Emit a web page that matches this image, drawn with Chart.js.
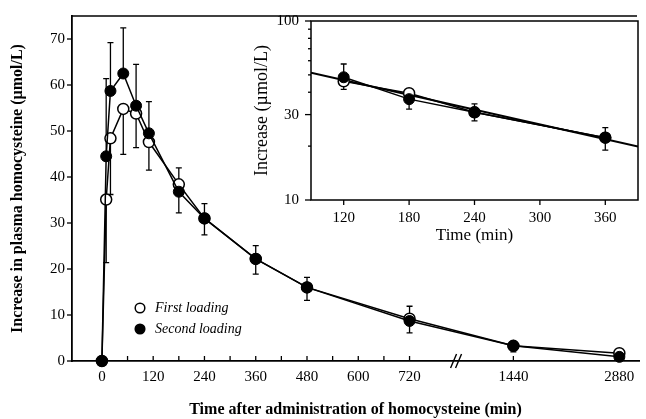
<!DOCTYPE html>
<html>
<head>
<meta charset="utf-8">
<script src="https://cdn.jsdelivr.net/npm/chart.js@4.4.1/dist/chart.umd.min.js"></script>
<style>
  html, body { margin: 0; padding: 0; background: #fff; }
  #wrap { position: relative; width: 646px; height: 419px; }
  #main { position: absolute; left: 0; top: 0; }
  #inset { position: absolute; left: 240px; top: 0; }
</style>
</head>
<body>
<div id="wrap">
  <canvas id="main" width="646" height="419"></canvas>
  <canvas id="inset" width="406" height="250"></canvas>
</div>
<script>
// ---- main plot data (min, umol/L) ----
var times          = [0, 10, 20, 50, 80, 110, 180, 240, 360, 480, 720, 1440, 2880]
var firstLoading   = [0, 35.1, 48.4, 54.8, 53.8, 47.6, 38.4, 31.0, 22.2, 16.0, 9.2, 3.3, 1.7]
var secondLoading  = [0, 44.5, 58.7, 62.5, 55.5, 49.5, 36.8, 31.0, 22.2, 16.0, 8.7, 3.3, 0.9]
var firstLower     = [0, 21.4, 36.2, 44.9, 46.4, 41.5, 32.2, 27.4, 18.9, 13.2, 6.1, 2.0, 0.9]
var secondUpper    = [0, 61.4, 69.2, 72.4, 64.5, 56.4, 42.0, 34.2, 25.1, 18.2, 11.9, 4.2, 1.6]

var xTickValues    = [0, 60, 120, 180, 240, 300, 360, 420, 480, 540, 600, 660, 720, 1440, 2880]
var xTickLabels    = [0, 120, 240, 360, 480, 600, 720, 1440, 2880]
var yTickValues    = [0, 10, 20, 30, 40, 50, 60, 70]
var legendLabels   = ['First loading', 'Second loading']

// ---- inset data (log scale) ----
var insetTimes       = [120, 180, 240, 360]
var insetFirst       = [46.0, 39.5, 30.9, 22.3]
var insetSecond      = [48.5, 36.6, 30.9, 22.3]
var insetFirstLower  = [41.5, 32.2, 27.7, 19.0]
var insetSecondUpper = [57.5, 40.8, 34.4, 25.4]
var fitTimes         = [90, 390]
var fitValues        = [51.4, 19.9]
var insetXTicks      = [120, 180, 240, 300, 360]
var insetYTicks      = [10, 20, 30, 40, 50, 60, 70, 80, 90, 100]
var insetYLabels     = [10, 30, 100]

var SERIF = '"Liberation Serif", "Times New Roman", serif'

// broken time axis: linear up to 720, then compressed
function axisPos(t) {
    if (t <= 720) return t
    if (t <= 1440) return 720 + (t - 720) * (963 - 720) / 720
    return 963 + (t - 1440) * (1211 - 963) / 1440
}
var breakAt = 830

function points(xs, ys, fx) {
    return xs.map(function (x, i) { return { x: fx ? fx(x) : x, y: ys[i] } })
}

// error bars, drawn under the markers
var errorBars = {
    id: 'errorBars',
    beforeDatasetsDraw: function (chart) {
        var ctx = chart.ctx
        ctx.save()
        ctx.strokeStyle = '#000'
        ctx.lineWidth = 1.3
        chart.data.datasets.forEach(function (ds) {
            if (!ds.errorTo) return
            ds.data.forEach(function (p, i) {
                var x  = chart.scales.x.getPixelForValue(p.x)
                var y1 = chart.scales.y.getPixelForValue(p.y)
                var y2 = chart.scales.y.getPixelForValue(ds.errorTo[i])
                ctx.beginPath()
                ctx.moveTo(x, y1); ctx.lineTo(x, y2)
                ctx.moveTo(x - 3, y2); ctx.lineTo(x + 3, y2)
                ctx.stroke()
            })
        })
        ctx.restore()
    }
}

// tick marks (dir 1 = outward, -1 = inward)
var tickMarks = {
    id: 'tickMarks',
    afterDraw: function (chart, args, opts) {
        var ctx = chart.ctx
        ctx.save()
        ctx.strokeStyle = '#000'
        ctx.lineWidth = 1.3
        ;['x', 'y'].forEach(function (id) {
            var sc = chart.scales[id], o = opts[id]
            if (!o) return
            sc.ticks.forEach(function (t) {
                var p = sc.getPixelForValue(t.value)
                var len = t.label ? o.major : o.minor
                ctx.beginPath()
                if (id === 'x') { ctx.moveTo(p, sc.top); ctx.lineTo(p, sc.top + o.dir * len) }
                else { ctx.moveTo(sc.right, p); ctx.lineTo(sc.right - o.dir * len, p) }
                ctx.stroke()
            })
        })
        ctx.restore()
    }
}

// frame, axis break and legend for the main plot
var mainDecor = {
    id: 'mainDecor',
    afterDraw: function (chart) {
        var ctx = chart.ctx, a = chart.chartArea
        ctx.save()
        ctx.strokeStyle = '#000'
        ctx.lineWidth = 1.5
        ctx.beginPath()
        ctx.moveTo(a.left, a.top); ctx.lineTo(a.right - 2, a.top)
        ctx.stroke()

        // "//" break on the time axis
        var bx = chart.scales.x.getPixelForValue(breakAt)
        ctx.lineWidth = 1.4
        ctx.beginPath()
        ctx.moveTo(bx - 6, a.bottom + 7); ctx.lineTo(bx, a.bottom - 7)
        ctx.moveTo(bx - 1, a.bottom + 7); ctx.lineTo(bx + 5, a.bottom - 7)
        ctx.stroke()

        // legend
        var lx = 140, ly = 308
        ctx.font = 'italic 14px ' + SERIF
        ctx.textBaseline = 'middle'
        legendLabels.forEach(function (label, i) {
            var y = ly + i * 21
            ctx.beginPath()
            ctx.arc(lx, y, 4.8, 0, Math.PI * 2)
            ctx.fillStyle = i === 0 ? '#fff' : '#000'
            ctx.fill()
            ctx.lineWidth = 1.5
            ctx.stroke()
            ctx.fillStyle = '#000'
            ctx.fillText(label, lx + 15, y)
        })
        ctx.restore()
    }
}

var insetFrame = {
    id: 'insetFrame',
    afterDraw: function (chart) {
        var ctx = chart.ctx, a = chart.chartArea
        ctx.save()
        ctx.strokeStyle = '#000'
        ctx.lineWidth = 1.5
        ctx.strokeRect(a.left, a.top, a.right - a.left, a.bottom - a.top)
        ctx.restore()
    }
}

function openSeries(data, errorTo) {
    return {
        data: data, errorTo: errorTo, order: 1, clip: false,
        borderColor: '#000', borderWidth: 1.5,
        pointRadius: 5.5, pointBackgroundColor: '#fff',
        pointBorderColor: '#000', pointBorderWidth: 1.5
    }
}
function filledSeries(data, errorTo) {
    return {
        data: data, errorTo: errorTo, order: 0, clip: false,
        borderColor: '#000', borderWidth: 1.5,
        pointRadius: 5.5, pointBackgroundColor: '#000',
        pointBorderColor: '#000', pointBorderWidth: 1
    }
}

// ---- main chart ----
new Chart(document.getElementById('main'), {
    type: 'line',
    data: {
        datasets: [
            openSeries(points(times, firstLoading, axisPos), firstLower),
            filledSeries(points(times, secondLoading, axisPos), secondUpper)
        ]
    },
    options: {
        responsive: false,
        animation: false,
        layout: { padding: { top: 13, right: 1, left: 0, bottom: 0 } },
        plugins: {
            legend: { display: false },
            tooltip: { enabled: false },
            tickMarks: { x: { dir: -1, major: 5, minor: 5 }, y: { dir: 1, major: 5, minor: 5 } }
        },
        scales: {
            x: {
                type: 'linear',
                min: -70,
                max: 1257,
                afterBuildTicks: function (sc) {
                    sc.ticks = xTickValues.map(function (v) { return { value: axisPos(v) } })
                },
                afterFit: function (sc) { sc.height = 58 },
                grid: { display: false, drawTicks: false },
                border: { color: '#000', width: 1.8 },
                ticks: {
                    autoSkip: false, maxRotation: 0, padding: 7, color: '#000',
                    font: { family: SERIF, size: 15 },
                    callback: function (v, i) {
                        var t = xTickValues[i]
                        return xTickLabels.indexOf(t) >= 0 ? String(t) : ''
                    }
                },
                title: {
                    display: true,
                    text: 'Time after administration of homocysteine (min)',
                    color: '#000',
                    font: { family: SERIF, size: 16, weight: 'bold' },
                    padding: { top: 0, bottom: 0 }
                }
            },
            y: {
                min: 0,
                max: 75,
                afterBuildTicks: function (sc) {
                    sc.ticks = yTickValues.map(function (v) { return { value: v } })
                },
                afterFit: function (sc) { sc.width = 72 },
                grid: { display: false, drawTicks: false },
                border: { color: '#000', width: 1.8 },
                ticks: { autoSkip: false, padding: 7, color: '#000', font: { family: SERIF, size: 15 } },
                title: {
                    display: true,
                    text: 'Increase in plasma homocysteine (\u00b5mol/L)',
                    color: '#000',
                    font: { family: SERIF, size: 16, weight: 'bold' },
                    padding: { top: 8, bottom: 0 }
                }
            }
        }
    },
    plugins: [errorBars, tickMarks, mainDecor]
})

// ---- inset chart ----
new Chart(document.getElementById('inset'), {
    type: 'line',
    data: {
        datasets: [
            {
                data: points(fitTimes, fitValues), order: 2,
                borderColor: '#000', borderWidth: 2.2, pointRadius: 0
            },
            openSeries(points(insetTimes, insetFirst), insetFirstLower),
            filledSeries(points(insetTimes, insetSecond), insetSecondUpper)
        ]
    },
    options: {
        responsive: false,
        animation: false,
        layout: { padding: { top: 21, right: 8, left: 0, bottom: 0 } },
        plugins: {
            legend: { display: false },
            tooltip: { enabled: false },
            tickMarks: { x: { dir: 1, major: 5, minor: 5 }, y: { dir: 1, major: 6, minor: 3 } }
        },
        scales: {
            x: {
                type: 'linear',
                min: 90,
                max: 390,
                afterBuildTicks: function (sc) {
                    sc.ticks = insetXTicks.map(function (v) { return { value: v } })
                },
                afterFit: function (sc) { sc.height = 50 },
                grid: { display: false, drawTicks: false },
                border: { display: false },
                ticks: { autoSkip: false, maxRotation: 0, padding: 9, color: '#000', font: { family: SERIF, size: 15 } },
                title: {
                    display: true,
                    text: 'Time (min)',
                    color: '#000',
                    font: { family: SERIF, size: 17 },
                    padding: { top: 0, bottom: 4 }
                }
            },
            y: {
                type: 'logarithmic',
                min: 10,
                max: 100,
                afterBuildTicks: function (sc) {
                    sc.ticks = insetYTicks.map(function (v) { return { value: v } })
                },
                afterFit: function (sc) { sc.width = 71 },
                grid: { display: false, drawTicks: false },
                border: { display: false },
                ticks: {
                    autoSkip: false, padding: 12, color: '#000', font: { family: SERIF, size: 15 },
                    callback: function (v) { return insetYLabels.indexOf(v) >= 0 ? String(v) : '' }
                },
                title: {
                    display: true,
                    text: 'Increase (\u00b5mol/L)',
                    color: '#000',
                    font: { family: SERIF, size: 18 },
                    padding: { top: 11, bottom: 0 }
                }
            }
        }
    },
    plugins: [errorBars, tickMarks, insetFrame]
})
</script>
</body>
</html>
